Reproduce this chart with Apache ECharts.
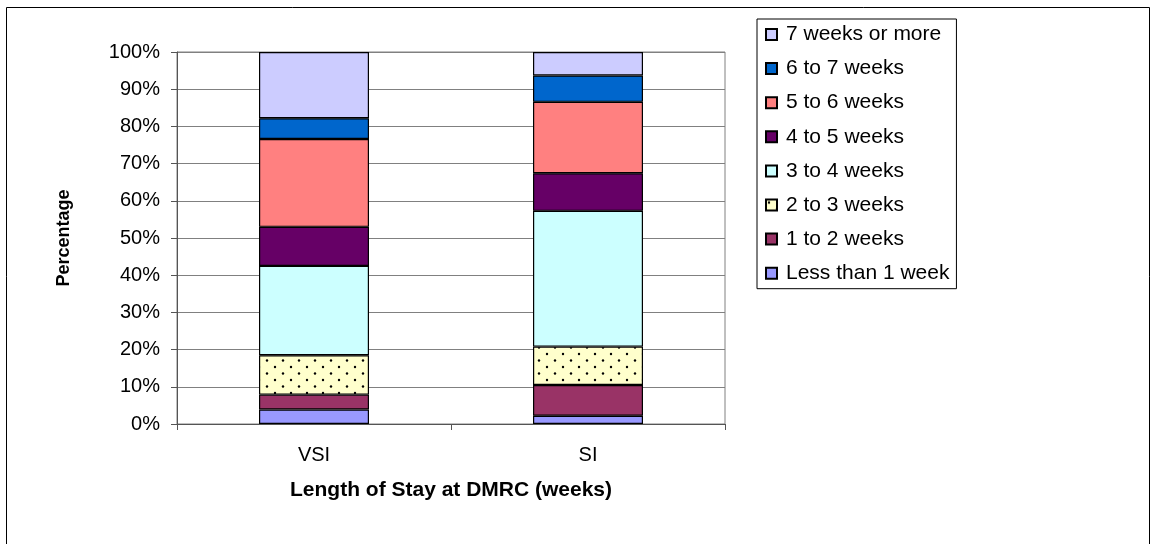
<!DOCTYPE html>
<html>
<head>
<meta charset="utf-8">
<script src="https://cdn.jsdelivr.net/npm/echarts@6/dist/echarts.min.js"></script>
<style>
html,body{margin:0;padding:0;background:#fff;}
#chart{width:1152px;height:544px;}
</style>
</head>
<body>
<div id="chart"></div>
<script>
// Data (percentages, stacked bottom to top)
const categories = ['VSI', 'SI'];
const seriesNames = ['Less than 1 week', '1 to 2 weeks', '2 to 3 weeks', '3 to 4 weeks', '4 to 5 weeks', '5 to 6 weeks', '6 to 7 weeks', '7 weeks or more'];
const lessThan1 = [3.9, 2.2];
const w1to2 = [4.0, 8.3];
const w2to3 = [10.6, 10.3];
const w3to4 = [24.0, 36.5];
const w4to5 = [10.5, 10.1];
const w5to6 = [23.6, 19.2];
const w6to7 = [5.6, 7.1];
const w7plus = [17.8, 6.3];
const yTicks = { min: 0, max: 100, interval: 10 };

const seriesValues = [lessThan1, w1to2, w2to3, w3to4, w4to5, w5to6, w6to7, w7plus];

// dotted pattern for "2 to 3 weeks"
const pc = document.createElement('canvas');
pc.width = 16; pc.height = 13;
const pctx = pc.getContext('2d');
pctx.fillStyle = '#FFFFCC';
pctx.fillRect(0, 0, 16, 13);
pctx.fillStyle = '#000';
pctx.beginPath(); pctx.arc(3, 3, 1.2, 0, Math.PI * 2); pctx.fill();
pctx.beginPath(); pctx.arc(11, 9.5, 1.2, 0, Math.PI * 2); pctx.fill();

const colors = ['#9999FF', '#993366', { image: pc, repeat: 'repeat' }, '#CCFFFF', '#660066', '#FF8080', '#0066CC', '#CCCCFF'];

const FONT = "'Liberation Sans', Arial, sans-serif";

const chart = echarts.init(document.getElementById('chart'), null, { renderer: 'canvas' });
chart.setOption({
  animation: false,
  backgroundColor: '#fff',
  textStyle: { fontFamily: FONT },
  graphic: [{
    type: 'rect', silent: true, z: 100,
    shape: { x: 6.5, y: 7.5, width: 1143, height: 560 },
    style: { fill: 'none', stroke: '#000', lineWidth: 1 }
  }],
  grid: {
    left: 177, top: 52, width: 548, height: 372,
    show: true, borderColor: '#808080', borderWidth: 1, backgroundColor: 'transparent'
  },
  legend: {
    orient: 'vertical',
    left: 757, top: 19,
    data: seriesNames.slice().reverse(),
    itemWidth: 11, itemHeight: 11,
    itemGap: 13.1,
    padding: [5, 7, 5, 8],
    borderColor: '#000', borderWidth: 1,
    backgroundColor: '#fff',
    textStyle: { fontFamily: FONT, fontSize: 21, color: '#000', lineHeight: 20, padding: [0, 0, 0, 4] },
    icon: 'rect'
  },
  xAxis: {
    type: 'category',
    data: categories,
    name: 'Length of Stay at DMRC (weeks)',
    nameLocation: 'middle',
    nameGap: 56,
    nameTextStyle: { fontFamily: FONT, fontSize: 21, fontWeight: 'bold', color: '#000' },
    axisLine: { lineStyle: { color: '#555', width: 1 } },
    axisTick: { show: true, length: 6, lineStyle: { color: '#555' } },
    axisLabel: { fontFamily: FONT, fontSize: 20, color: '#000', margin: 21 },
    splitLine: { show: false }
  },
  yAxis: {
    type: 'value',
    min: yTicks.min, max: yTicks.max, interval: yTicks.interval,
    name: 'Percentage',
    nameLocation: 'middle',
    nameGap: 104,
    nameTextStyle: { fontFamily: FONT, fontSize: 18, fontWeight: 'bold', color: '#000' },
    axisLine: { show: true, lineStyle: { color: '#555', width: 1 } },
    axisTick: { show: true, length: 6, lineStyle: { color: '#555' } },
    axisLabel: { fontFamily: FONT, fontSize: 20, color: '#000', margin: 17, formatter: '{value}%' },
    splitLine: { show: true, lineStyle: { color: '#808080', width: 1 } }
  },
  series: seriesNames.map((name, i) => ({
    name: name,
    type: 'bar',
    stack: 'total',
    barWidth: 110,
    data: seriesValues[i],
    itemStyle: { color: colors[i], borderColor: '#000', borderWidth: 1.2 }
  }))
});
</script>
</body>
</html>
